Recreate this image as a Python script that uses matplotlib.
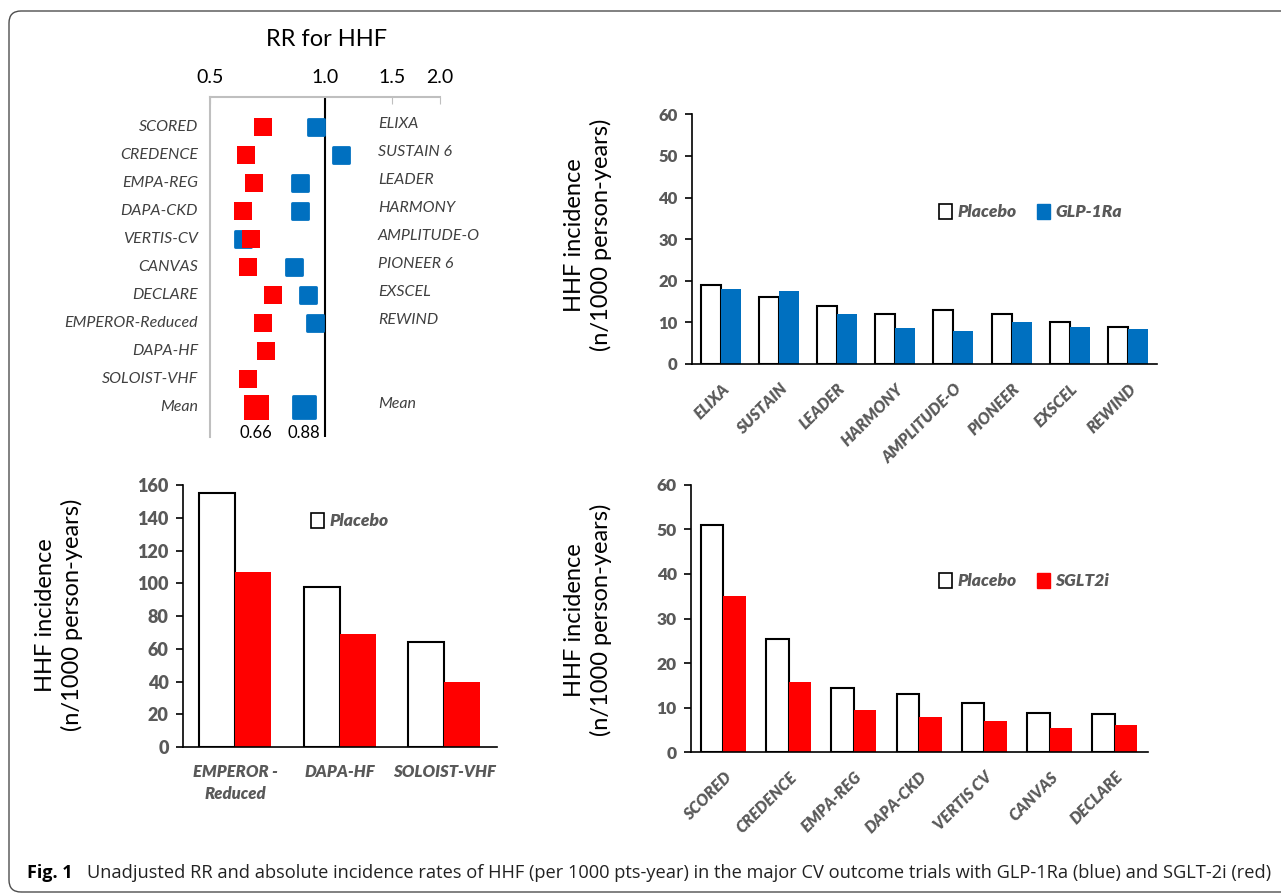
import matplotlib
matplotlib.use("Agg")
import matplotlib.pyplot as plt
from matplotlib.patches import Patch, FancyBboxPatch
from matplotlib.markers import MarkerStyle
from matplotlib.transforms import IdentityTransform, blended_transform_factory
import numpy as np

plt.rcParams['font.family'] = ['Lato', 'DejaVu Sans']

# ---- forest plot data (RR for HHF) ----
sglt_trials = ["SCORED", "CREDENCE", "EMPA-REG", "DAPA-CKD", "VERTIS-CV", "CANVAS",
               "DECLARE", "EMPEROR-Reduced", "DAPA-HF", "SOLOIST-VHF"]
sglt_rr = [0.69, 0.62, 0.65, 0.61, 0.64, 0.63, 0.73, 0.69, 0.70, 0.63]
glp_trials = ["ELIXA", "SUSTAIN 6", "LEADER", "HARMONY", "AMPLITUDE-O", "PIONEER 6",
              "EXSCEL", "REWIND"]
glp_rr = [0.95, 1.10, 0.86, 0.86, 0.61, 0.83, 0.90, 0.94]
sglt_mean = 0.66
glp_mean = 0.88
rr_ticks = [0.5, 1.0, 1.5, 2.0]

# ---- incidence data (n/1000 person-years) ----
glp_names = ["ELIXA", "SUSTAIN", "LEADER", "HARMONY", "AMPLITUDE-O", "PIONEER", "EXSCEL", "REWIND"]
glp_placebo = [19.0, 16.1, 14.0, 12.0, 13.0, 12.0, 10.0, 8.9]
glp_active = [18.0, 17.5, 12.0, 8.7, 8.0, 10.0, 8.9, 8.3]

hf_names = ["EMPEROR -\nReduced", "DAPA-HF", "SOLOIST-VHF"]
hf_placebo = [155, 98, 64]
hf_active = [107, 69, 40]

sglt_names = ["SCORED", "CREDENCE", "EMPA-REG", "DAPA-CKD", "VERTIS CV", "CANVAS", "DECLARE"]
sglt_placebo = [51.0, 25.3, 14.5, 13.0, 11.0, 8.7, 8.5]
sglt_active = [35.0, 15.7, 9.4, 8.0, 7.0, 5.5, 6.1]

red = "#ff0000"
blue = "#0070c0"
gray = "#595959"
W, H = 1281, 894


def box(left, top, right, bottom):
    # pixel box (from top-left) -> figure fraction rect
    return [left / W, 1 - bottom / H, (right - left) / W, (bottom - top) / H]


fig = plt.figure(figsize=(W / 100, H / 100), dpi=100)

# outer rounded frame
frame = FancyBboxPatch((9, 2), 1300, 881, boxstyle="round,pad=0,rounding_size=12",
                       transform=IdentityTransform(), fill=False, ec="#4d4d4d", lw=1.0)
fig.patches.append(frame)

# ---------------- forest plot ----------------
ax = fig.add_axes(box(210, 97, 440, 437))
ax.set_xscale("log")
ax.set_xlim(0.5, 2.0)
ax.set_ylim(11.07, -1.07)
ax.xaxis.tick_top()
ax.set_xticks(rr_ticks)
ax.set_xticklabels(["%.1f" % t for t in rr_ticks], fontsize=14)
ax.xaxis.set_minor_locator(matplotlib.ticker.NullLocator())
ax.tick_params(axis="x", which="major", direction="in", length=5, color="#bfbfbf", pad=8)
ax.set_yticks([])
for s in ["right", "bottom"]:
    ax.spines[s].set_visible(False)
ax.spines["top"].set_color("#bfbfbf")
ax.spines["left"].set_color("#bfbfbf")
ax.spines["top"].set_linewidth(1.5)
ax.spines["left"].set_linewidth(1.5)
ax.axvline(1.0, color="black", lw=1.5)
ax.patch.set_alpha(0)

rows_sglt = np.arange(len(sglt_trials))
rows_glp = np.arange(len(glp_trials))
mean_row = len(sglt_trials)
sq = MarkerStyle("s", joinstyle="round")
ax.plot(glp_rr, rows_glp, ls="none", marker=sq, ms=11, color=blue, mec=blue, mew=2)
ax.plot([glp_mean], [mean_row], ls="none", marker=sq, ms=16, color=blue, mec=blue, mew=2)
ax.plot(sglt_rr, rows_sglt, ls="none", marker="s", ms=13, color=red, mew=0)
ax.plot([sglt_mean], [mean_row], ls="none", marker="s", ms=18, color=red, mew=0)

lt = blended_transform_factory(fig.transFigure, ax.transData)
for i, name in enumerate(sglt_trials + ["Mean"]):
    ax.text(198 / W, i, name, transform=lt, ha="right", va="center", fontsize=11.5,
            style="italic", color="#404040")
for i, name in enumerate(glp_trials):
    ax.text(378 / W, i - 0.1, name, transform=lt, ha="left", va="center", fontsize=11.5,
            style="italic", color="#404040")
ax.text(378 / W, mean_row - 0.1, "Mean", transform=lt, ha="left", va="center", fontsize=11.5,
        style="italic", color="#404040")
bt = blended_transform_factory(ax.transData, fig.transFigure)
ax.text(sglt_mean, 1 - 433 / H, "%.2f" % sglt_mean, transform=bt, ha="center", va="center",
        fontsize=12)
ax.text(glp_mean, 1 - 433 / H, "%.2f" % glp_mean, transform=bt, ha="center", va="center",
        fontsize=12)
fig.text(327 / W, 1 - 40 / H, "RR for HHF", ha="center", va="center", fontsize=17)


# ---------------- bar charts ----------------
def bar_panel(rect, names, placebo, active, color, ymax, ystep, tick_fs, rotate, legend_pos,
              active_label):
    a = fig.add_axes(rect)
    x = np.arange(len(names))
    w = 0.345
    a.bar(x - w / 2, placebo, w, color="white", edgecolor="black", lw=1.5, zorder=2)
    a.bar(x + w / 2, active, w, color=color, lw=0, zorder=2)
    a.set_xlim(-0.5, len(names) - 0.5)
    a.set_ylim(0, ymax)
    yt = np.arange(0, ymax + 1, ystep)
    a.set_yticks(yt, labels=[str(v) for v in yt], fontsize=tick_fs, fontweight="heavy",
                 color=gray)
    a.tick_params(axis="y", length=5, width=1.2, pad=5)
    if rotate:
        a.set_xticks(x, labels=names, rotation=45, ha="right", rotation_mode="anchor",
                     fontsize=11.5, fontweight="heavy", style="italic", color=gray)
        a.tick_params(axis="x", length=0, pad=12)
    else:
        a.set_xticks(x, labels=names, fontsize=12, fontweight="heavy", style="italic",
                     color=gray, linespacing=1.5, va="top")
        a.tick_params(axis="x", length=0, pad=12)
    for s in ["top", "right"]:
        a.spines[s].set_visible(False)
    a.spines["left"].set_linewidth(1.2)
    a.spines["bottom"].set_linewidth(1.2)
    handles = [Patch(facecolor="white", edgecolor="black", lw=1.2, label="Placebo")]
    if active_label:
        handles.append(Patch(facecolor=color, edgecolor=color, label=active_label))
    leg = a.legend(handles=handles, loc="center left", bbox_to_anchor=legend_pos,
                   ncol=len(handles), frameon=False, handlelength=0.75, handleheight=1.0,
                   handletextpad=0.3, columnspacing=1.2, borderaxespad=0,
                   prop={"weight": "heavy", "style": "italic", "size": 12.5})
    for t in leg.get_texts():
        t.set_color(gray)
    return a


bar_panel(box(691.7, 114.3, 1157, 364), glp_names, glp_placebo, glp_active, blue,
          60, 10, 12, True, ((932 - 691.7) / 465.3, (364 - 212) / 249.7), "GLP-1Ra")
bar_panel(box(182.7, 485.3, 496.7, 747), hf_names, hf_placebo, hf_active, red,
          160, 20, 13, False, ((304 - 182.7) / 314, (747 - 521) / 261.7), None)
bar_panel(box(690.7, 484.7, 1147.5, 752.3), sglt_names, sglt_placebo, sglt_active, red,
          60, 10, 12.5, True, ((932 - 690.7) / 456.8, (752.3 - 581) / 267.6), "SGLT2i")

ylab = "HHF incidence\n(n/1000 person-years)"
fig.text(588 / W, 1 - 235 / H, ylab, rotation=90, ha="center", va="center", fontsize=17,
         linespacing=1.3)
fig.text(59 / W, 1 - 615 / H, ylab, rotation=90, ha="center", va="center", fontsize=17,
         linespacing=1.3)
fig.text(588 / W, 1 - 620 / H, ylab, rotation=90, ha="center", va="center", fontsize=17,
         linespacing=1.3)

# caption
fig.text(27 / W, 1 - 873 / H, "Fig. 1", ha="left", va="center", fontsize=13,
         fontweight="bold", family=["Open Sans", "DejaVu Sans"])
fig.text(87 / W, 1 - 873 / H,
         "Unadjusted RR and absolute incidence rates of HHF (per 1000 pts-year) in the major CV "
         "outcome trials with GLP-1Ra (blue) and SGLT-2i (red)",
         ha="left", va="center", fontsize=13.15, color="#222222",
         family=["Open Sans", "DejaVu Sans"])

fig.savefig("out.png", dpi=100)
